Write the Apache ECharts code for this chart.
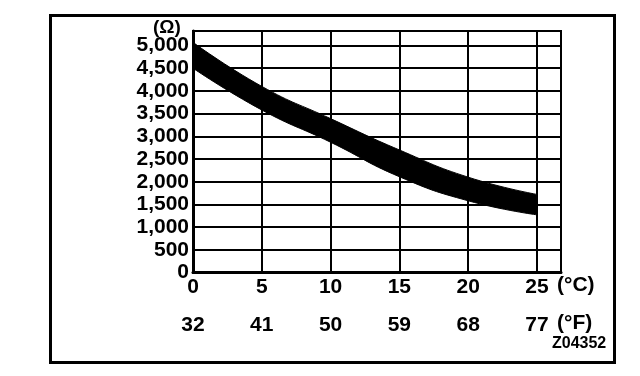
<!DOCTYPE html>
<html>
<head>
<meta charset="utf-8">
<script src="https://cdn.jsdelivr.net/npm/echarts@6/dist/echarts.min.js"></script>
<style>
  html, body { margin: 0; padding: 0; background: #fff; }
  #chart { width: 640px; height: 376px; }
</style>
</head>
<body>
<div id="chart"></div>
<script>
// Temperature (°C) at which the band is read
const tempsC = [0, 5, 10, 15, 20, 25];
// Upper and lower edges of the resistance band (Ω)
const upperOhm = [5070, 4100, 3390, 2700, 2100, 1720];
const lowerOhm = [4500, 3580, 2870, 2110, 1580, 1270];
// Tick labels
const celsiusTicks = ['0', '5', '10', '15', '20', '25'];
const fahrenheitTicks = ['32', '41', '50', '59', '68', '77'];
const ohmTicks = ['0', '500', '1,000', '1,500', '2,000', '2,500', '3,000', '3,500', '4,000', '4,500', '5,000'];

const FONT = '"Liberation Sans", Arial, Helvetica, sans-serif';
const chart = echarts.init(document.getElementById('chart'), null, { renderer: 'canvas' });

const upperData = tempsC.map((t, i) => [t, upperOhm[i]]);
const lowerData = tempsC.map((t, i) => [t, lowerOhm[i]]);

function tickLabel(list, step) {
  return function (v) {
    const idx = Math.round(v / step);
    if (Math.abs(v - idx * step) > 1e-6) return '';
    return list[idx] !== undefined ? list[idx] : '';
  };
}

chart.setOption({
  animation: false,
  backgroundColor: '#fff',
  grid: {
    left: 193, top: 31, width: 368, height: 241.5,
    show: true, borderColor: '#000', borderWidth: 2, backgroundColor: 'transparent'
  },
  xAxis: [
    {
      type: 'value', min: 0, max: 26.75, interval: 5, z: 5,
      axisLine: { show: true, lineStyle: { color: '#000', width: 3 } },
      axisTick: { show: false },
      splitLine: { show: true, lineStyle: { color: '#000', width: 2 } },
      axisLabel: {
        margin: 4, fontSize: 21, fontWeight: 'bold', color: '#000', fontFamily: FONT,
        showMaxLabel: false,
        formatter: tickLabel(celsiusTicks, 5)
      }
    },
    {
      type: 'value', min: 0, max: 26.75, interval: 5, position: 'bottom', offset: 38, z: 5,
      axisLine: { show: false }, axisTick: { show: false }, splitLine: { show: false },
      axisLabel: {
        margin: 4, fontSize: 21, fontWeight: 'bold', color: '#000', fontFamily: FONT,
        showMaxLabel: false,
        formatter: tickLabel(fahrenheitTicks, 5)
      }
    }
  ],
  yAxis: {
    type: 'value', min: 0, max: 5320, interval: 500, z: 5,
    axisLine: { show: true, lineStyle: { color: '#000', width: 3 } },
    axisTick: { show: false },
    splitLine: { show: true, lineStyle: { color: '#000', width: 2 } },
    axisLabel: {
      margin: 4, fontSize: 21, fontWeight: 'bold', color: '#000', fontFamily: FONT,
      showMaxLabel: false,
      formatter: tickLabel(ohmTicks, 500)
    }
  },
  series: [
    {
      // upper edge: filled black down to the axis
      type: 'line', xAxisIndex: 0, data: upperData, z: 1,
      smooth: true, symbol: 'none',
      lineStyle: { color: '#000', width: 1 },
      areaStyle: { color: '#000', opacity: 1 }, silent: true
    },
    {
      // lower edge: white fill below, leaving the black band between the edges
      type: 'line', xAxisIndex: 0, data: lowerData, z: 2,
      smooth: true, symbol: 'none',
      lineStyle: { color: '#000', width: 1 },
      areaStyle: { color: '#fff', opacity: 1 }, silent: true
    }
  ],
  graphic: [
    {
      type: 'rect', left: 48, top: 13, z: 100,
      shape: { width: 564, height: 347 },
      style: { fill: 'none', stroke: '#000', lineWidth: 3 }
    },
    {
      type: 'text', left: 153, top: 18, z: 100,
      style: { text: '(Ω)', font: 'bold 19px ' + FONT, fill: '#000' }
    },
    {
      type: 'text', left: 557, top: 275, z: 100,
      style: { text: '(°C)', font: 'bold 21px ' + FONT, fill: '#000' }
    },
    {
      type: 'text', left: 557, top: 313, z: 100,
      style: { text: '(°F)', font: 'bold 21px ' + FONT, fill: '#000' }
    },
    {
      type: 'text', left: 552, top: 336, z: 100,
      style: { text: 'Z04352', font: 'bold 16px ' + FONT, fill: '#000' }
    }
  ]
});
</script>
</body>
</html>
